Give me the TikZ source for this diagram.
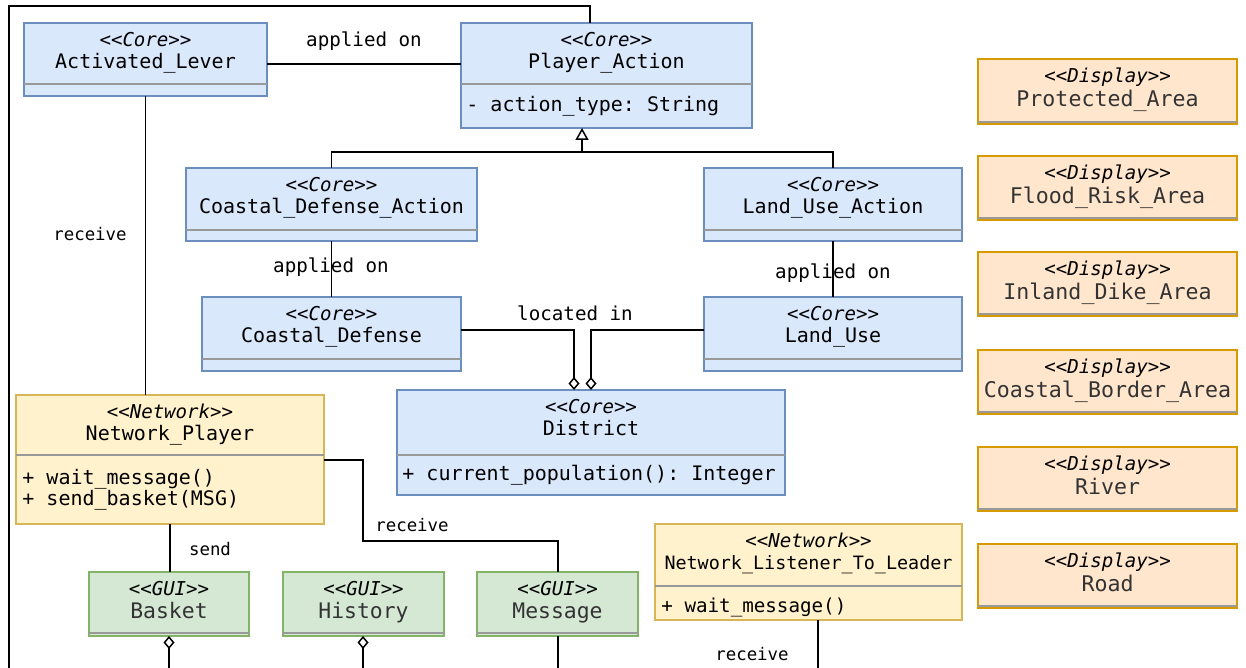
\documentclass[tikz,border=0pt]{standalone}
\usepackage{fontspec}
\setmonofont{DejaVu Sans Mono}
\usetikzlibrary{arrows.meta}
\definecolor{corefill}{HTML}{DAE8FC}
\definecolor{coredraw}{HTML}{6C8EBF}
\definecolor{netfill}{HTML}{FFF2CC}
\definecolor{netdraw}{HTML}{D6B656}
\definecolor{guifill}{HTML}{D5E8D4}
\definecolor{guidraw}{HTML}{82B366}
\definecolor{dispfill}{HTML}{FFE6CC}
\definecolor{dispdraw}{HTML}{D79B00}
\definecolor{divgray}{HTML}{999999}
\definecolor{softtext}{HTML}{333333}

\newcommand\umlclass[9]{%
  \node[#2box, anchor=north west, minimum width={(#5-#3)*0.5pt}, minimum height={(#6-#4)*0.5pt}] (#1) at (#3,#4) {};
  \draw[divline] (#3,#7) -- (#5,#7);
  \node[stereo] (#1-st) at ({(#3+#5)/2},{#4+16}) {#8};
  \node[#2name] (#1-nm) at ({(#3+#5)/2},{#4+38}) {#9};
}

\tikzset{
  conn/.style={draw=black, line width=0.75pt},
  divline/.style={draw=divgray, line width=1pt},
  boxbase/.style={line width=0.7pt, inner sep=0pt, outer sep=0pt},
  corebox/.style={boxbase, draw=coredraw, fill=corefill},
  netbox/.style={boxbase, draw=netdraw, fill=netfill},
  guibox/.style={boxbase, draw=guidraw, fill=guifill},
  dispbox/.style={boxbase, draw=dispdraw, fill=dispfill},
  txtbase/.style={inner sep=0pt, text height=9.6pt, text depth=2pt},
  stereo/.style={txtbase, font=\ttfamily\itshape\fontsize{9.55}{11}\selectfont},
  corename/.style={txtbase, font=\ttfamily\fontsize{10}{12}\selectfont},
  netname/.style={corename},
  guiname/.style={txtbase, yshift=-0.5pt, text=softtext, font=\ttfamily\fontsize{10.7}{12}\selectfont},
  dispname/.style={txtbase, yshift=-1pt, text=softtext, font=\ttfamily\fontsize{10.8}{12}\selectfont},
  attr/.style={txtbase, anchor=west, font=\ttfamily\fontsize{10}{12}\selectfont},
  lbl/.style={txtbase, font=\ttfamily\fontsize{9.6}{12}\selectfont},
  lbls/.style={txtbase, font=\ttfamily\fontsize{8.7}{11}\selectfont},
  agg/.style={-{Diamond[open, length=6.5pt, width=5.5pt]}},
  gen/.style={-{Triangle[open, length=6pt, width=6.5pt]}},
}

\begin{document}
\begin{tikzpicture}[x=0.5pt, y=-0.5pt]
\fill[white] (0,0) rectangle (1246,668);
\useasboundingbox (0,0) rectangle (1246,668);

% ---- classes
\umlclass{al}{core}{24}{23}{267}{96}{84}{<<Core>>}{Activated\_Lever}
\umlclass{pa}{core}{461}{23}{752}{128}{84}{<<Core>>}{Player\_Action}
\node[attr] (pa-a1) at (466,104) {- action\_type: String};
\umlclass{cda}{core}{186}{168}{477}{241}{230}{<<Core>>}{Coastal\_Defense\_Action}
\umlclass{lua}{core}{704}{168}{962}{241}{230}{<<Core>>}{Land\_Use\_Action}
\umlclass{cd}{core}{202}{297}{461}{371}{359}{<<Core>>}{Coastal\_Defense}
\umlclass{lu}{core}{704}{297}{962}{371}{359}{<<Core>>}{Land\_Use}
\umlclass{dist}{core}{397}{390}{785}{495}{455}{<<Core>>}{District}
\node[attr] (dist-a1) at (402,473) {+ current\_population(): Integer};

\umlclass{np}{net}{16}{395}{324}{524}{455}{<<Network>>}{Network\_Player}
\node[attr] (np-a1) at (22,477) {+ wait\_message()};
\node[attr] (np-a2) at (22,498) {+ send\_basket(MSG)};
\umlclass{lis}{net}{655}{524}{962}{620}{586}{<<Network>>}{{\fontsize{9.2}{11}\selectfont Network\_Listener\_To\_Leader}}
\node[attr, font=\ttfamily\fontsize{9.6}{12}\selectfont] (lis-a1) at (661,605) {+ wait\_message()};

\umlclass{bas}{gui}{89}{572}{249}{636}{633}{<<GUI>>}{Basket}
\umlclass{his}{gui}{283}{572}{444}{636}{633}{<<GUI>>}{History}
\umlclass{msg}{gui}{477}{572}{638}{636}{633}{<<GUI>>}{Message}

\umlclass{pr}{disp}{978}{59}{1237}{124}{122}{<<Display>>}{Protected\_Area}
\umlclass{fl}{disp}{978}{156}{1237}{220}{218}{<<Display>>}{Flood\_Risk\_Area}
\umlclass{ind}{disp}{978}{252}{1237}{316}{314}{<<Display>>}{Inland\_Dike\_Area}
\umlclass{cb}{disp}{978}{350}{1237}{414}{412}{<<Display>>}{Coastal\_Border\_Area}
\umlclass{ri}{disp}{978}{447}{1237}{511}{509}{<<Display>>}{River}
\umlclass{ro}{disp}{978}{544}{1237}{608}{606}{<<Display>>}{Road}

% ---- helper coordinates
\coordinate (y64) at (0,64);
\coordinate (o1) at (590,6);
\coordinate (o2) at (9,6);
\coordinate (o3) at (9,668);
\coordinate (gb) at (582,152);
\coordinate (li1) at (574,330);
\coordinate (li2) at (591,330);
\coordinate (r1) at (363,460);
\coordinate (r2) at (363,541);
\coordinate (b1) at (169,668);
\coordinate (h1) at (363,668);
\coordinate (m1) at (558,668);
\coordinate (l1) at (818,668);

% ---- connectors
\draw[conn] (al.east |- y64) -- (pa.west |- y64);
\draw[conn] (al.south) -- (al.south |- np.north);
\draw[conn] (pa.north -| o1) -- (o1) -- (o2) -- (o3);
\draw[conn] (cda.north) -- (cda.north |- gb) -- (lua.north |- gb) -- (lua.north);
\draw[conn, gen] (gb) -- (gb |- pa.south);
\draw[conn] (cda.south) -- (cd.north);
\draw[conn] (lua.south) -- (lu.north);
\draw[conn, agg] (cd.east |- li1) -- (li1) -- (li1 |- dist.north);
\draw[conn, agg] (lu.west |- li2) -- (li2) -- (li2 |- dist.north);
\draw[conn] (np.east |- r1) -- (r1) -- (r2) -- (r2 -| m1) -- (m1 |- msg.north);
\draw[conn] (np.south) -- (np.south |- bas.north);
\draw[conn, agg] (b1) -- (b1 |- bas.south);
\draw[conn, agg] (h1) -- (h1 |- his.south);
\draw[conn] (m1 |- msg.south) -- (m1);
\draw[conn] (l1 |- lis.south) -- (l1);

% ---- connector labels
\node[lbl] (t-app1) at (364,39) {applied on};
\node[lbls] (t-rec1) at (90,233) {receive};
\node[lbl] (t-app2) at (331,265) {applied on};
\node[lbl] (t-app3) at (833,271) {applied on};
\node[lbl] (t-loc) at (575,313) {located in};
\node[lbls] (t-rec2) at (412,524) {receive};
\node[lbls] (t-send) at (210,548) {send};
\node[lbls] (t-rec3) at (752,653) {receive};
\end{tikzpicture}
\end{document}
